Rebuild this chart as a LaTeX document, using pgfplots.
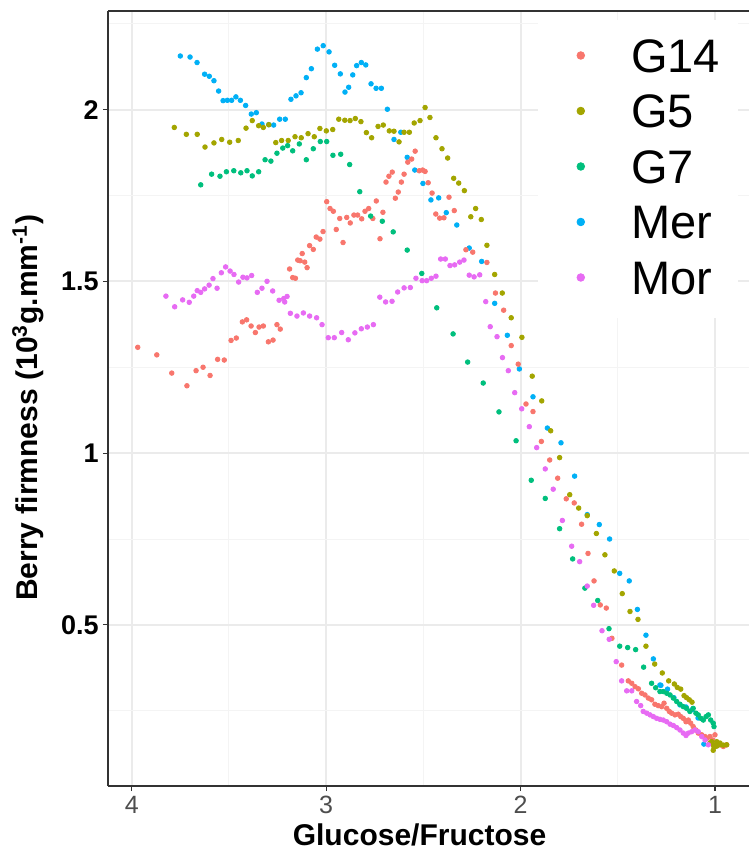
\documentclass[border=0pt]{standalone}
\usepackage{pgfplots}
\pgfplotsset{compat=1.18}
\usepackage{fontspec}
\setmainfont{Liberation Sans}

\definecolor{cG14}{HTML}{F8766D}
\definecolor{cG5}{HTML}{A3A500}
\definecolor{cG7}{HTML}{00BF7D}
\definecolor{cMer}{HTML}{00B0F6}
\definecolor{cMor}{HTML}{E76BF3}
\definecolor{gridmaj}{HTML}{EBEBEB}
\definecolor{gridmin}{HTML}{F4F4F4}
\definecolor{tickgrey}{HTML}{4D4D4D}
\definecolor{border}{HTML}{333333}

\begin{document}
\begin{tikzpicture}
\begin{axis}[
  scale only axis, width=320.5pt, height=387.5pt,
  at={(0pt,0pt)}, anchor=south west,
  x dir=reverse,
  xmin=0.825, xmax=4.122, ymin=0.031, ymax=2.287,
  xtick={1,2,3,4}, ytick={0.5,1,1.5,2},
  minor xtick={1.5,2.5,3.5}, minor ytick={0.25,0.75,1.25,1.75,2.25},
  grid=both,
  major grid style={gridmaj, line width=1pt},
  minor grid style={gridmin, line width=0.5pt},
  axis x line=box, axis y line=left,
  axis line style={-, border, line width=0.7pt},
  xtick pos=left, ytick pos=left,
  tick align=outside, major tick length=2.5pt, minor tick length=0pt,
  tick style={border, line width=0.6pt},
  /pgf/number format/assume math mode=true,
  xticklabel style={font=\fontsize{12.5}{14}\selectfont, text=tickgrey, inner sep=2.5pt},
  yticklabel style={font=\bfseries\fontsize{13.5}{15}\selectfont, text=black, inner sep=2pt},
  xlabel={Glucose/Fructose},
  ylabel={Berry firmness (10\textsuperscript{3}g.mm\textsuperscript{-1})},
  every axis x label/.style={at={(axis description cs:0.486,0)}, yshift=-24.3pt, anchor=center, font=\bfseries\fontsize{15}{18}\selectfont},
  every axis y label/.style={at={(axis description cs:0,0.488)}, xshift=-40pt, rotate=90, anchor=center, font=\bfseries\fontsize{15}{18}\selectfont},
  legend image code/.code={\path (0pt,-2pt) (24pt,2pt); \draw[#1, mark size=1.9pt] plot coordinates {(12pt,1.3pt)};},
  legend cell align=left,
  legend style={at={(axis description cs:0.6708,0.9884)}, anchor=north west,
    draw=none, fill=white, inner xsep=9pt, inner ysep=9.85pt,
    row sep=9.75pt, column sep=13pt,
    font=\fontsize{23.5}{27}\selectfont,
    nodes={inner sep=0pt, text height=16pt, text depth=2pt}},
  every axis plot/.append style={only marks, mark=*, mark size=1.15pt, forget plot},
]

% Mer
\addplot[color=cMer] coordinates {
(3.750,2.156) (3.700,2.153) (3.664,2.137) (3.625,2.103) (3.601,2.097) (3.577,2.084)
(3.553,2.054) (3.530,2.026) (3.508,2.027) (3.486,2.027) (3.464,2.037) (3.441,2.027)
(3.414,2.012) (3.385,1.987) (3.359,1.991) (3.330,1.958) (3.295,1.956) (3.270,1.955)
(3.239,1.972) (3.210,1.972) (3.181,2.030) (3.155,2.040) (3.129,2.049) (3.102,2.093)
(3.076,2.119) (3.045,2.176) (3.015,2.186) (2.985,2.168) (2.956,2.129) (2.927,2.104)
(2.903,2.051) (2.884,2.065) (2.863,2.101) (2.843,2.128) (2.819,2.137) (2.796,2.130)
(2.769,2.075) (2.743,2.062) (2.716,2.062) (2.685,2.001) (2.651,1.913) (2.616,1.934)
(2.583,1.861) (2.544,1.824) (2.502,1.785) (2.461,1.737) (2.421,1.743) (2.382,1.700)
(2.328,1.664) (2.264,1.597) (2.200,1.558) (2.133,1.436) (2.068,1.343) (2.006,1.245)
(1.936,1.164) (1.862,1.073) (1.792,1.030) (1.722,0.933) (1.657,0.821) (1.595,0.792)
(1.542,0.750) (1.490,0.650) (1.441,0.628) (1.399,0.545) (1.355,0.470) (1.317,0.401)
(1.283,0.325) (1.278,0.324) (1.244,0.313) (1.211,0.288) (1.180,0.267) (1.149,0.261)
(1.118,0.253) (1.087,0.229) (1.057,0.153)
};

% G14
\addplot[color=cG14] coordinates {
(3.969,1.308) (3.871,1.286) (3.794,1.233) (3.716,1.196) (3.669,1.240) (3.633,1.250)
(3.597,1.226) (3.558,1.273) (3.524,1.271) (3.489,1.328) (3.462,1.335) (3.431,1.382)
(3.409,1.388) (3.386,1.370) (3.364,1.351) (3.345,1.367) (3.323,1.370) (3.297,1.324)
(3.273,1.329) (3.253,1.374) (3.236,1.361) (3.188,1.536) (3.172,1.511) (3.158,1.509)
(3.146,1.562) (3.134,1.560) (3.123,1.581) (3.110,1.556) (3.098,1.540) (3.085,1.604)
(3.066,1.593) (3.051,1.629) (3.032,1.623) (3.016,1.645) (2.997,1.732) (2.980,1.712)
(2.963,1.704) (2.948,1.651) (2.930,1.683) (2.913,1.613) (2.894,1.686) (2.876,1.670)
(2.857,1.693) (2.838,1.693) (2.817,1.682) (2.800,1.704) (2.781,1.712) (2.760,1.683)
(2.742,1.734) (2.723,1.624) (2.708,1.701) (2.692,1.789) (2.677,1.806) (2.660,1.818)
(2.644,1.742) (2.629,1.760) (2.613,1.789) (2.599,1.812) (2.580,1.847) (2.560,1.856)
(2.542,1.879) (2.521,1.822) (2.504,1.824) (2.491,1.820) (2.475,1.787) (2.455,1.757)
(2.436,1.696) (2.416,1.684) (2.394,1.685) (2.368,1.745) (2.341,1.706) (2.281,1.592)
(2.246,1.585) (2.173,1.555) (2.129,1.466) (2.087,1.416) (2.048,1.313) (2.012,1.259)
(1.972,1.143) (1.936,1.121) (1.893,1.034) (1.850,0.980) (1.809,0.927) (1.765,0.867)
(1.724,0.855) (1.686,0.793) (1.653,0.708) (1.622,0.628) (1.590,0.558) (1.559,0.549)
(1.530,0.461) (1.480,0.383) (1.446,0.337) (1.428,0.330) (1.411,0.320) (1.394,0.314)
(1.377,0.301) (1.360,0.296) (1.343,0.287) (1.326,0.282) (1.309,0.269) (1.292,0.265)
(1.274,0.262) (1.262,0.272) (1.248,0.257) (1.235,0.248) (1.223,0.243) (1.206,0.238)
(1.189,0.240) (1.176,0.233) (1.163,0.228) (1.149,0.218) (1.137,0.223) (1.125,0.214)
(1.112,0.204) (1.098,0.194) (1.086,0.185) (1.068,0.180) (1.051,0.175) (1.040,0.170)
(1.026,0.175) (1.012,0.165) (1.000,0.180) (0.988,0.156) (0.974,0.151) (0.957,0.146)
(0.940,0.151)
};

% G5
\addplot[color=cG5] coordinates {
(3.781,1.948) (3.719,1.928) (3.663,1.928) (3.623,1.891) (3.577,1.903) (3.537,1.913)
(3.496,1.905) (3.452,1.910) (3.412,1.946) (3.380,1.968) (3.347,1.953) (3.323,1.948)
(3.295,1.956) (3.259,1.904) (3.229,1.910) (3.195,1.910) (3.160,1.921) (3.128,1.918)
(3.093,1.930) (3.061,1.921) (3.032,1.945) (2.999,1.938) (2.966,1.942) (2.935,1.972)
(2.904,1.969) (2.877,1.968) (2.850,1.974) (2.821,1.965) (2.793,1.933) (2.766,1.918)
(2.733,1.951) (2.706,1.955) (2.675,1.938) (2.651,1.937) (2.625,1.906) (2.599,1.934)
(2.572,1.934) (2.547,1.961) (2.517,1.968) (2.491,2.006) (2.466,1.977) (2.435,1.918)
(2.404,1.886) (2.375,1.859) (2.344,1.800) (2.318,1.786) (2.289,1.764) (2.256,1.688)
(2.231,1.712) (2.202,1.680) (2.173,1.605) (2.133,1.520) (2.094,1.466) (2.048,1.394)
(1.993,1.337) (1.940,1.224) (1.891,1.152) (1.845,1.065) (1.799,0.987) (1.747,0.879)
(1.701,0.840) (1.657,0.818) (1.610,0.766) (1.566,0.704) (1.518,0.657) (1.477,0.591)
(1.437,0.539) (1.396,0.516) (1.355,0.438) (1.310,0.386) (1.271,0.360) (1.238,0.337)
(1.209,0.328) (1.194,0.318) (1.176,0.313) (1.159,0.294) (1.146,0.288) (1.132,0.282)
(1.118,0.275) (1.026,0.156) (1.017,0.160) (1.005,0.144) (1.009,0.151) (0.991,0.147)
(0.991,0.160) (0.974,0.156) (0.974,0.151) (0.957,0.150) (0.940,0.151) (1.009,0.135)
};

% G7
\addplot[color=cG7] coordinates {
(3.645,1.781) (3.589,1.812) (3.546,1.806) (3.513,1.819) (3.475,1.822) (3.439,1.816)
(3.407,1.822) (3.380,1.807) (3.347,1.819) (3.314,1.854) (3.284,1.850) (3.253,1.873)
(3.223,1.888) (3.198,1.895) (3.172,1.880) (3.138,1.900) (3.102,1.854) (3.066,1.886)
(3.030,1.907) (2.997,1.907) (2.965,1.867) (2.925,1.870) (2.879,1.840) (2.827,1.761)
(2.771,1.690) (2.711,1.675) (2.655,1.644) (2.583,1.591) (2.508,1.523) (2.431,1.423)
(2.347,1.347) (2.272,1.265) (2.192,1.204) (2.111,1.120) (2.023,1.036) (1.945,0.921)
(1.873,0.868) (1.799,0.780) (1.732,0.692) (1.669,0.607) (1.603,0.571) (1.545,0.489)
(1.490,0.438) (1.449,0.434) (1.408,0.428) (1.367,0.377) (1.326,0.330) (1.305,0.317)
(1.283,0.306) (1.266,0.306) (1.248,0.301) (1.231,0.296) (1.214,0.287) (1.197,0.277)
(1.180,0.269) (1.163,0.262) (1.146,0.257) (1.129,0.248) (1.112,0.257) (1.098,0.243)
(1.086,0.238) (1.073,0.228) (1.060,0.223) (1.046,0.233) (1.034,0.238) (1.022,0.223)
(1.009,0.214) (1.005,0.204)
};

% Mor
\addplot[color=cMor] coordinates {
(3.824,1.457) (3.779,1.426) (3.738,1.446) (3.704,1.439) (3.681,1.457) (3.663,1.473)
(3.645,1.468) (3.625,1.478) (3.602,1.489) (3.582,1.508) (3.561,1.480) (3.539,1.525)
(3.517,1.542) (3.494,1.530) (3.474,1.520) (3.450,1.498) (3.428,1.512) (3.407,1.510)
(3.383,1.517) (3.354,1.468) (3.330,1.480) (3.304,1.500) (3.275,1.472) (3.242,1.445)
(3.218,1.450) (3.213,1.440) (3.201,1.456) (3.184,1.407) (3.150,1.399) (3.117,1.408)
(3.085,1.399) (3.049,1.394) (3.021,1.374) (2.989,1.336) (2.958,1.336) (2.920,1.351)
(2.886,1.330) (2.852,1.350) (2.819,1.362) (2.788,1.367) (2.757,1.374) (2.724,1.454)
(2.694,1.440) (2.661,1.442) (2.632,1.469) (2.599,1.481) (2.567,1.482) (2.538,1.509)
(2.506,1.502) (2.483,1.502) (2.459,1.509) (2.435,1.515) (2.411,1.565) (2.387,1.565)
(2.363,1.546) (2.339,1.548) (2.313,1.556) (2.291,1.562) (2.264,1.518) (2.239,1.513)
(2.210,1.519) (2.179,1.441) (2.156,1.368) (2.121,1.339) (2.093,1.278) (2.063,1.240)
(2.030,1.176) (1.994,1.129) (1.955,1.077) (1.917,1.016) (1.873,0.954) (1.832,0.895)
(1.785,0.804) (1.737,0.729) (1.696,0.684) (1.657,0.613) (1.624,0.557) (1.581,0.483)
(1.544,0.458) (1.508,0.393) (1.480,0.337) (1.454,0.308) (1.428,0.308) (1.403,0.277)
(1.382,0.265) (1.369,0.248) (1.351,0.243) (1.334,0.238) (1.317,0.233) (1.300,0.228)
(1.283,0.225) (1.266,0.223) (1.248,0.218) (1.231,0.211) (1.214,0.207) (1.197,0.201)
(1.180,0.194) (1.163,0.185) (1.149,0.178) (1.137,0.185) (1.120,0.189) (1.103,0.194)
(1.086,0.189) (1.068,0.175) (1.051,0.165) (1.034,0.151)
};

\addlegendimage{only marks, mark=*, color=cG14}
\addlegendentry{G14}
\addlegendimage{only marks, mark=*, color=cG5}
\addlegendentry{G5}
\addlegendimage{only marks, mark=*, color=cG7}
\addlegendentry{G7}
\addlegendimage{only marks, mark=*, color=cMer}
\addlegendentry{Mer}
\addlegendimage{only marks, mark=*, color=cMor}
\addlegendentry{Mor}
\end{axis}
\pgfresetboundingbox
\path[use as bounding box] (-54pt,-32.5pt) rectangle (320.5pt,393pt);
\end{tikzpicture}
\end{document}
